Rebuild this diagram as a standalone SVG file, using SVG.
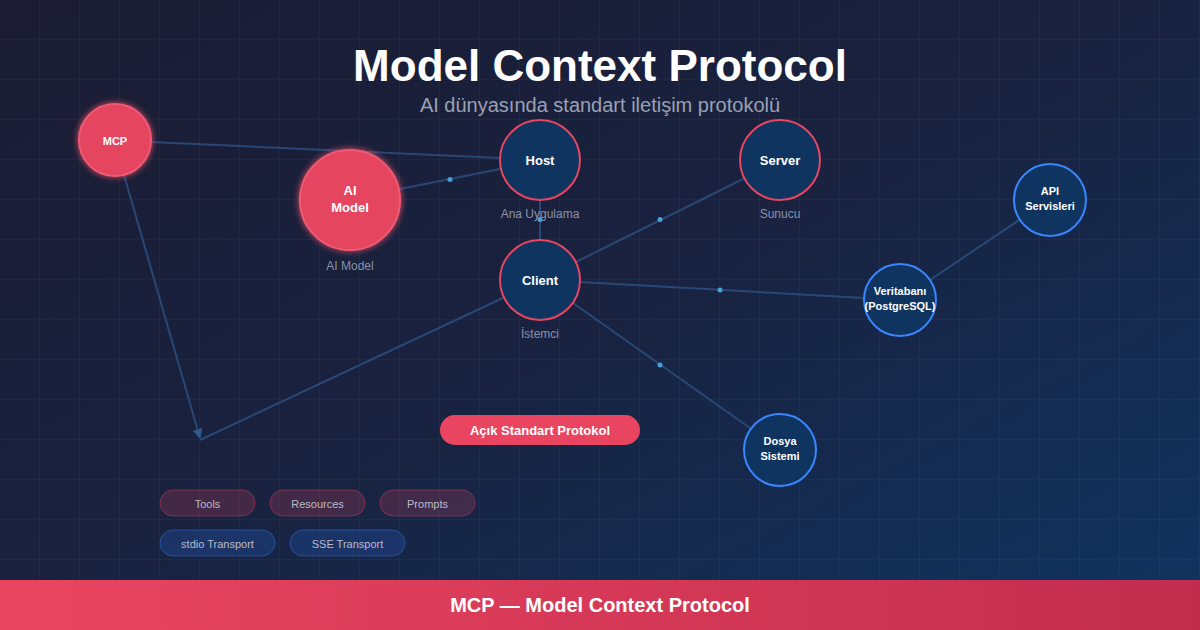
<svg xmlns="http://www.w3.org/2000/svg" width="1200" height="630" viewBox="0 0 1200 630">
<defs>
<linearGradient id="bg" x1="0" y1="0" x2="1" y2="1">
<stop offset="0" stop-color="#1b1c32"/>
<stop offset="0.5" stop-color="#192240"/>
<stop offset="1" stop-color="#0f3460"/>
</linearGradient>
<linearGradient id="foot" x1="0" y1="0" x2="1" y2="0">
<stop offset="0" stop-color="#e94560"/>
<stop offset="1" stop-color="#c22d4e"/>
</linearGradient>
<pattern id="grid" width="40" height="40" patternUnits="userSpaceOnUse">
<path d="M40 0V40M0 40H40" fill="none" stroke="#ffffff" stroke-opacity="0.04" stroke-width="1.5"/>
</pattern>
<filter id="glow" x="-50%" y="-50%" width="200%" height="200%">
<feGaussianBlur stdDeviation="3" result="b"/>
<feMerge><feMergeNode in="b"/><feMergeNode in="SourceGraphic"/></feMerge>
</filter>
<marker id="arr" viewBox="0 0 10 10" refX="9" refY="5" markerWidth="10" markerHeight="10" markerUnits="userSpaceOnUse" orient="auto">
<path d="M0 0L10 5L0 10Z" fill="#2e5a8e"/>
</marker>
<style>
.t{font-family:"Liberation Sans",Arial,sans-serif;}
.nl{font-family:"Liberation Sans",Arial,sans-serif;font-weight:bold;fill:#ffffff;text-anchor:middle;}
.sub{font-family:"Liberation Sans",Arial,sans-serif;font-size:12px;fill:#8a92a8;text-anchor:middle;}
.red{fill:#e94560;fill-opacity:0.88;stroke:#f05a72;stroke-width:2;filter:url(#glow);}
.core{fill:#0f3460;stroke:#e94560;stroke-width:2;}
.blue{fill:#0f3460;stroke:#3a86ff;stroke-width:2;}
.ln{stroke:#2c4f80;stroke-width:2;fill:none;stroke-opacity:0.85;}
.dot{fill:#4a9fd8;}
.pr{fill:#e94560;fill-opacity:0.2;stroke:#e94560;stroke-opacity:0.4;stroke-width:1;}
.pb{fill:#1e4080;fill-opacity:0.6;stroke:#2a5fb0;stroke-opacity:0.7;stroke-width:1;}
.pt{font-family:"Liberation Sans",Arial,sans-serif;font-size:11px;fill:#b8bccb;text-anchor:middle;}
</style>
</defs>
<rect width="1200" height="630" fill="url(#bg)"/>
<rect width="1200" height="580" fill="url(#grid)"/>

<text class="t" x="600" y="81" font-size="44" font-weight="bold" fill="#ffffff" text-anchor="middle">Model Context Protocol</text>
<text class="t" x="600" y="112" font-size="20" fill="#9aa0b4" text-anchor="middle">AI dünyasında standart iletişim protokolü</text>

<g id="connectors">
<line class="ln" x1="151" y1="142" x2="500" y2="158"/>
<line class="ln" x1="124" y1="175" x2="200" y2="438" marker-end="url(#arr)"/>
<line class="ln" x1="200" y1="440" x2="505" y2="297"/>
<line class="ln" x1="400" y1="189" x2="500" y2="169"/>
<line class="ln" x1="540" y1="200" x2="540" y2="240"/>
<line class="ln" x1="576" y1="262" x2="745" y2="178"/>
<line class="ln" x1="580" y1="282" x2="864" y2="298"/>
<line class="ln" x1="573" y1="303" x2="750" y2="428"/>
<line class="ln" x1="930" y1="280" x2="1019" y2="220"/>
<circle class="dot" cx="450" cy="179.5" r="2.5"/>
<circle class="dot" cx="540" cy="219.5" r="2.5"/>
<circle class="dot" cx="660" cy="219.5" r="2.5"/>
<circle class="dot" cx="720" cy="290" r="2.5"/>
<circle class="dot" cx="660" cy="365" r="2.5"/>
</g>

<g id="mcp">
<circle class="red" cx="115" cy="140" r="36"/>
<text class="nl" x="115" y="145" font-size="11">MCP</text>
</g>
<g id="ai-model">
<circle class="red" cx="350" cy="200" r="50"/>
<text class="nl" x="350" y="195" font-size="13">AI</text>
<text class="nl" x="350" y="212" font-size="13">Model</text>
<text class="sub" x="350" y="270">AI Model</text>
</g>
<g id="host">
<circle class="core" cx="540" cy="160" r="40"/>
<text class="nl" x="540" y="165" font-size="13">Host</text>
<text class="sub" x="540" y="218">Ana Uygulama</text>
</g>
<g id="server">
<circle class="core" cx="780" cy="160" r="40"/>
<text class="nl" x="780" y="165" font-size="13">Server</text>
<text class="sub" x="780" y="218">Sunucu</text>
</g>
<g id="client">
<circle class="core" cx="540" cy="280" r="40"/>
<text class="nl" x="540" y="285" font-size="13">Client</text>
<text class="sub" x="540" y="338">İstemci</text>
</g>
<g id="api">
<circle class="blue" cx="1050" cy="200" r="36"/>
<text class="nl" x="1050" y="195" font-size="11">API</text>
<text class="nl" x="1050" y="210" font-size="11">Servisleri</text>
</g>
<g id="db">
<circle class="blue" cx="900" cy="300" r="36"/>
<text class="nl" x="900" y="295" font-size="11">Veritabanı</text>
<text class="nl" x="900" y="310" font-size="11">(PostgreSQL)</text>
</g>
<g id="fs">
<circle class="blue" cx="780" cy="450" r="36"/>
<text class="nl" x="780" y="445" font-size="11">Dosya</text>
<text class="nl" x="780" y="460" font-size="11">Sistemi</text>
</g>

<g id="badge">
<rect x="440" y="415" width="200" height="30" rx="15" fill="#e94560"/>
<text class="nl" x="540" y="435" font-size="13">Açık Standart Protokol</text>
</g>

<g id="tools"><rect class="pr" x="160" y="490" width="95" height="26" rx="13"/><text class="pt" x="207.5" y="508">Tools</text></g>
<g id="resources"><rect class="pr" x="270" y="490" width="95" height="26" rx="13"/><text class="pt" x="317.5" y="508">Resources</text></g>
<g id="prompts"><rect class="pr" x="380" y="490" width="95" height="26" rx="13"/><text class="pt" x="427.5" y="508">Prompts</text></g>
<g id="stdio"><rect class="pb" x="160" y="530" width="115" height="26" rx="13"/><text class="pt" x="217.5" y="548">stdio Transport</text></g>
<g id="sse"><rect class="pb" x="290" y="530" width="115" height="26" rx="13"/><text class="pt" x="347.5" y="548">SSE Transport</text></g>

<g id="footer">
<rect x="0" y="580" width="1200" height="50" fill="url(#foot)"/>
<text class="nl" x="600" y="612" font-size="20">MCP — Model Context Protocol</text>
</g>
</svg>
